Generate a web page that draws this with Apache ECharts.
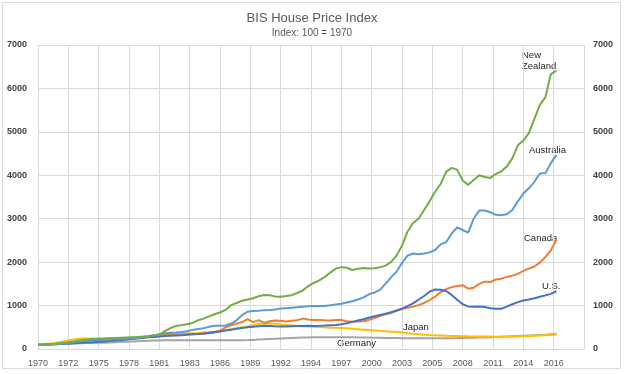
<!DOCTYPE html>
<html>
<head>
<meta charset="utf-8">
<script src="https://cdn.jsdelivr.net/npm/echarts@6/dist/echarts.min.js"></script>
<style>
html,body{margin:0;padding:0;background:#fff;}
#chart{width:624px;height:374px;}
</style>
</head>
<body>
<div id="chart"></div>
<script>
// Half-yearly observation times (1970.0 ... 2017.0)
const periods = [];
for (let y = 1970; y <= 2017.001; y += 0.5) periods.push(y);

const xTickLabels = ['1970','1972','1975','1978','1981','1983','1986','1989','1992','1994','1997','2000','2003','2005','2008','2011','2014','2016'];
const yTicks = [0,1000,2000,3000,4000,5000,6000,7000];

const newZealand = [
  100,105,112,120,130,145,165,185,205,220,
  230,235,240,248,255,260,265,270,275,285,
  295,310,330,410,480,530,550,570,600,660,
  700,750,800,840,900,1010,1060,1110,1140,1170,
  1215,1245,1240,1210,1205,1220,1240,1290,1350,1450,
  1520,1580,1660,1760,1850,1885,1870,1820,1850,1865,
  1855,1860,1880,1920,2000,2150,2380,2700,2900,3000,
  3200,3400,3620,3800,4080,4170,4130,3880,3780,3890,
  4000,3960,3940,4030,4090,4200,4390,4690,4800,4970,
  5300,5620,5800,6330,6410
];
const australia = [
  100,103,108,115,122,132,145,160,178,190,
  200,205,212,220,228,233,238,245,255,270,
  290,315,340,360,372,380,390,410,440,460,
  480,510,535,535,540,580,660,780,860,875,
  880,895,900,910,930,940,950,960,975,985,
  990,990,990,1005,1025,1040,1070,1100,1140,1190,
  1260,1300,1360,1500,1650,1780,1980,2150,2200,2180,
  2200,2225,2280,2410,2460,2660,2800,2740,2680,3000,
  3190,3190,3150,3090,3080,3105,3200,3400,3580,3700,
  3850,4040,4050,4280,4470
];
const canada = [
  100,102,106,112,118,125,135,150,170,185,
  195,205,215,225,232,238,243,250,258,270,
  285,305,330,345,340,330,335,340,342,345,
  350,360,380,420,500,545,585,620,690,620,
  665,600,640,655,650,635,650,665,700,680,
  670,668,660,655,665,668,640,630,635,640,
  670,710,760,800,830,880,920,950,975,1010,
  1060,1128,1205,1310,1380,1425,1450,1470,1390,1410,
  1500,1550,1540,1600,1620,1660,1690,1730,1800,1850,
  1900,1990,2120,2270,2520
];
const us = [
  100,102,105,110,115,120,128,135,143,150,
  158,165,173,182,193,205,215,228,240,255,
  268,278,290,300,305,310,318,328,338,345,
  355,372,390,405,425,445,465,485,500,515,
  525,535,530,522,518,520,525,530,532,533,
  532,535,540,548,555,570,595,625,655,685,
  720,755,785,810,845,885,930,985,1050,1135,
  1220,1320,1370,1362,1335,1245,1135,1030,980,975,
  978,965,940,925,928,975,1030,1080,1115,1140,
  1170,1205,1235,1270,1330
];
const japan = [
  100,110,122,140,160,185,210,230,240,240,
  238,240,243,245,248,250,255,262,272,285,
  300,315,325,335,345,350,355,360,365,370,
  378,385,395,410,430,455,480,500,520,545,
  570,590,595,580,565,550,540,530,525,518,
  512,505,498,492,488,482,475,465,455,445,
  435,428,420,410,400,390,378,365,352,340,
  330,322,315,310,305,300,298,295,292,290,
  288,286,285,284,284,284,286,290,295,300,
  305,310,318,325,330
];
const germany = [
  100,103,107,111,115,120,125,130,135,138,
  140,143,146,150,155,160,165,170,176,182,
  188,193,197,200,200,200,200,200,200,200,
  200,200,200,200,200,200,200,202,205,210,
  218,225,232,238,244,250,255,260,264,267,
  270,272,273,273,272,271,270,268,266,264,
  262,260,258,256,254,252,250,249,248,247,
  246,245,245,246,248,250,252,255,258,260,
  262,265,270,276,282,288,294,300,306,312,
  318,324,330,338,345
];

const seriesDefs = [
  {name:'Germany', data:germany, color:'#a5a5a5'},
  {name:'Japan', data:japan, color:'#ffc000'},
  {name:'Canada', data:canada, color:'#ed7d31'},
  {name:'U.S.', data:us, color:'#4472c4'},
  {name:'Australia', data:australia, color:'#5b9bd5'},
  {name:'New Zealand', data:newZealand, color:'#70ad47'}
];

const chart = echarts.init(document.getElementById('chart'), null, {renderer:'canvas'});
const FONT = '"Liberation Sans", Arial, sans-serif';
const gridCol = '#d9d9d9';

function yAxisDef(pos){
  return {
    type:'value', position:pos, min:yTicks[0], max:yTicks[yTicks.length-1], interval:1000,
    axisLine:{show:false}, axisTick:{show:false},
    splitLine:{show:pos==='left', lineStyle:{color:gridCol, width:1}},
    axisLabel:{color:'#404040', fontWeight:'bold', fontSize:9, fontFamily:FONT, margin:pos==='left'?11:9,
      formatter:function(v){ return String(v); }}
  };
}

const annFont = '9.5px ' + FONT;
const option = {
  animation:false,
  backgroundColor:'#ffffff',
  title:{
    text:'BIS House Price Index', subtext:'Index: 100 = 1970',
    left:'center', top:7, itemGap:3,
    textStyle:{fontSize:13, fontWeight:'normal', color:'#595959', fontFamily:FONT},
    subtextStyle:{fontSize:10, color:'#595959', fontFamily:FONT}
  },
  grid:{left:38, right:40, top:45, bottom:25, containLabel:false},
  xAxis:{
    type:'value', min:0, max:49.5, interval:2.75,
    axisLine:{show:true, lineStyle:{color:gridCol}}, axisTick:{show:false},
    splitLine:{show:true, lineStyle:{color:gridCol, width:1}},
    axisLabel:{
      color:'#595959', fontSize:9, fontFamily:FONT, margin:10, showMaxLabel:false,
      formatter:function(v){ const i = Math.round(v/2.75); return xTickLabels[i] || ''; }
    }
  },
  yAxis:[yAxisDef('left'), yAxisDef('right')],
  series: seriesDefs.map(s => ({
    name:s.name, type:'line', yAxisIndex:0, showSymbol:false, symbol:'none',
    smooth:false,
    lineStyle:{color:s.color, width:2},
    itemStyle:{color:s.color},
    data: periods.map((p,i) => [p-1970, s.data[i]])
  })),
  graphic:[
    {type:'rect', silent:true, shape:{x:2.5, y:2.5, width:618, height:366}, style:{fill:null, stroke:'#d9d9d9', lineWidth:1}, z:-1},
    {type:'text', left:522, top:50, style:{text:'New\nZealand', fill:'#262626', font:annFont, lineHeight:11}},
    {type:'text', left:529, top:145, style:{text:'Australia', fill:'#262626', font:annFont}},
    {type:'text', left:524, top:233, style:{text:'Canada', fill:'#262626', font:annFont}},
    {type:'text', left:542, top:281, style:{text:'U.S.', fill:'#262626', font:annFont}},
    {type:'text', left:403, top:322, style:{text:'Japan', fill:'#262626', font:annFont}},
    {type:'text', left:337, top:338, style:{text:'Germany', fill:'#262626', font:annFont}}
  ]
};
chart.setOption(option);
</script>
</body>
</html>
